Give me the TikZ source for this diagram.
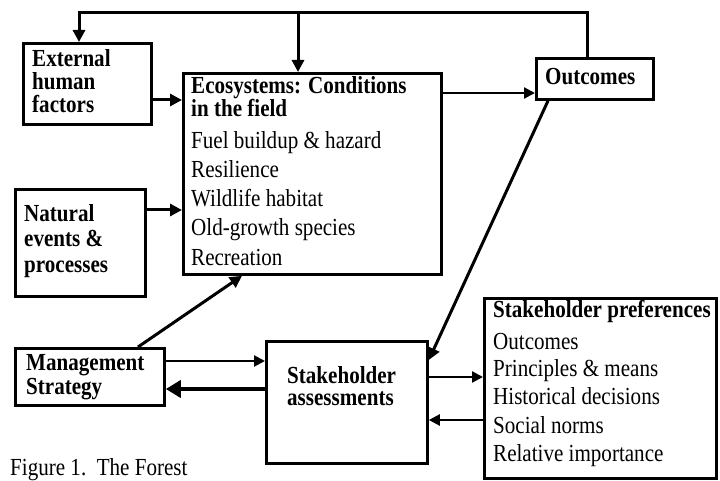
\documentclass[tikz,border=0pt]{standalone}
\usepackage{fontspec}
\setmainfont{Liberation Serif}[FakeStretch=0.86]
\usetikzlibrary{arrows.meta}
\begin{document}
\begin{tikzpicture}[x=1pt,y=-1pt,
  box/.style={draw, line width=2.8pt, inner sep=0pt, anchor=north west},
  lbl/.style={anchor=base west, inner sep=0pt, font=\fontsize{24.5}{26}\selectfont},
  blbl/.style={anchor=base west, inner sep=0pt, font=\fontsize{24.5}{26}\selectfont\bfseries},
  arr/.style={line width=2.2pt, -{Triangle[length=11pt,width=11pt]}},
  marr/.style={line width=3pt, -{Triangle[length=12pt,width=12pt]}},
  barr/.style={line width=4.4pt, -{Triangle[length=15pt,width=17pt]}},
  loopline/.style={line width=3pt, -{Triangle[length=12pt,width=12pt]}}]
\useasboundingbox (0,0) rectangle (720,481);
% boxes
\node[box, minimum width=128pt, minimum height=81pt] (ext) at (22,42) {};
\node[box, minimum width=258pt, minimum height=201pt] (eco) at (182,72) {};
\node[box, minimum width=117pt, minimum height=41pt] (out) at (535,57) {};
\node[box, minimum width=130pt, minimum height=107pt] (nat) at (14,188) {};
\node[box, minimum width=149pt, minimum height=57pt] (mgmt) at (14,347) {};
\node[box, minimum width=161pt, minimum height=122pt] (sa) at (265,340) {};
\node[box, minimum width=232pt, minimum height=180pt] (pref) at (483,297) {};
% texts
\node[blbl] (t1) at (32,67) {External};
\node[blbl] (t2) at (32,90) {human};
\node[blbl] (t3) at (32,113) {factors};
\node[blbl] (t4) at (191,94) {Ecosystems: Conditions};
\node[blbl] (t5) at (191,117) {in the field};
\node[lbl] (t6) at (191,149) {Fuel buildup \& hazard};
\node[lbl] (t7) at (191,178) {Resilience};
\node[lbl] (t8) at (191,207) {Wildlife habitat};
\node[lbl] (t9) at (191,236) {Old-growth species};
\node[lbl] (t10) at (191,265) {Recreation};
\node[blbl] (t11) at (545,85) {Outcomes};
\node[blbl] (t12) at (24,222) {Natural};
\node[blbl] (t13) at (24,247) {events \&};
\node[blbl] (t14) at (24,272) {processes};
\node[blbl] (t15) at (26,370) {Management};
\node[blbl] (t16) at (26,394) {Strategy};
\node[blbl] (t17) at (287,383) {Stakeholder};
\node[blbl] (t18) at (287,405) {assessments};
\node[blbl] (t19) at (493,317) {Stakeholder preferences};
\node[lbl] (t20) at (493,349) {Outcomes};
\node[lbl] (t21) at (493,376) {Principles \& means};
\node[lbl] (t22) at (493,404) {Historical decisions};
\node[lbl] (t23) at (493,433) {Social norms};
\node[lbl] (t24) at (493,461) {Relative importance};
\node[lbl] (cap) at (10,475) {Figure 1.\ \ The Forest};
% connectors
\draw[loopline] (out.north -| 587,0) -- (587,13) -- (79,13) -- (ext.north -| 79,0);
\draw[loopline] (298,13) -- (eco.north -| 298,0);
\draw[marr] (ext.east |- 0,100) -- (eco.west |- 0,100);
\draw[marr] (nat.east |- 0,210) -- (eco.west |- 0,210);
\draw[arr] (eco.east |- 0,93) -- (out.west |- 0,93);
\draw[marr] (out.south -| 548,0) -- (sa.east |- 0,360);
\draw[marr] (mgmt.north -| 138,0) -- (eco.south -| 242,0);
\draw[arr] (mgmt.east |- 0,361) -- (sa.west |- 0,361);
\draw[barr] (sa.west |- 0,389) -- (mgmt.east |- 0,389);
\draw[arr] (sa.east |- 0,377) -- (pref.west |- 0,377);
\draw[arr] (pref.west |- 0,420) -- (sa.east |- 0,420);
\end{tikzpicture}
\end{document}
